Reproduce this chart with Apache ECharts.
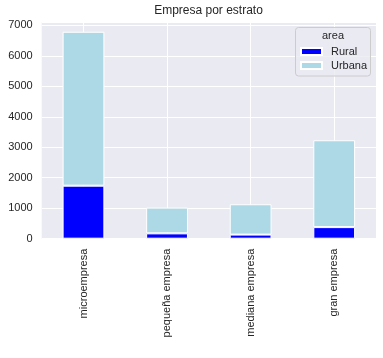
<!DOCTYPE html>
<html><head><meta charset="utf-8">
<script src="https://cdn.jsdelivr.net/npm/echarts@6/dist/echarts.min.js"></script>
<style>html,body{margin:0;padding:0;background:#fff}#c{width:383px;height:358px}</style>
</head><body><div id="c"></div>
<script>
var categories = ['microempresa', 'pequeña empresa', 'mediana empresa', 'gran empresa'];
var rural = [1740, 175, 135, 380];
var urbana = [5050, 845, 995, 2850];
var yTicks = [0, 1000, 2000, 3000, 4000, 5000, 6000, 7000];
var FONT = '"Liberation Sans", Arial, sans-serif';
var TXT = '#262626';

var chart = echarts.init(document.getElementById('c'), null, {renderer: 'canvas'});
chart.setOption({
  animation: false,
  backgroundColor: '#ffffff',
  textStyle: {fontFamily: FONT},
  grid: {left: 41.7, right: 7, top: 22, bottom: 119.3, show: true, backgroundColor: '#EAEAF2', borderWidth: 0},
  graphic: [
    {type: 'text', style: {text: 'Empresa por estrato', x: 208.5, y: 11, textAlign: 'center', textVerticalAlign: 'middle', font: '12px ' + FONT, fill: TXT}},
    {type: 'rect', shape: {x: 295.5, y: 27.5, width: 75, height: 48.5, r: 3}, style: {fill: 'rgba(234,234,242,0.8)', stroke: '#cccccc', lineWidth: 1}, z: 10},
    {type: 'text', style: {text: 'area', x: 333, y: 36, textAlign: 'center', textVerticalAlign: 'middle', font: '11px ' + FONT, fill: TXT}, z: 11}
  ],
  legend: {
    orient: 'vertical', left: 300, top: 46, padding: 0, itemGap: 3,
    itemWidth: 21, itemHeight: 7, icon: 'rect', z: 12,
    textStyle: {fontSize: 11, color: TXT, fontFamily: FONT, padding: [0, 0, 0, 4]},
    data: ['Rural', 'Urbana']
  },
  xAxis: [
    {type: 'category', data: categories,
     axisLine: {show: false}, axisTick: {show: false}, splitLine: {show: false},
     axisLabel: {rotate: 90, margin: 10, fontSize: 11, color: TXT, fontFamily: FONT}},
    {type: 'category', data: ['', '', '', '', '', '', '', ''], position: 'bottom',
     axisLine: {show: false}, axisTick: {show: false}, axisLabel: {show: false},
     splitLine: {show: true, interval: function (i) { return i % 2 === 1; }, lineStyle: {color: '#ffffff', width: 1}}}
  ],
  yAxis: {
    type: 'value', min: 0, max: 7110, interval: 1000,
    axisLine: {show: false}, axisTick: {show: false},
    splitLine: {show: true, lineStyle: {color: '#ffffff', width: 1}},
    axisLabel: {margin: 9, fontSize: 11, color: TXT, fontFamily: FONT,
      formatter: function (v) { return yTicks.indexOf(v) >= 0 ? String(v) : ''; }}
  },
  series: [
    {name: 'Rural', type: 'bar', stack: 's', barWidth: '50%', data: rural,
     itemStyle: {color: '#0000ff', borderColor: '#ffffff', borderWidth: 1}},
    {name: 'Urbana', type: 'bar', stack: 's', barWidth: '50%', data: urbana,
     itemStyle: {color: '#add8e6', borderColor: '#ffffff', borderWidth: 1}}
  ]
});
</script></body></html>
